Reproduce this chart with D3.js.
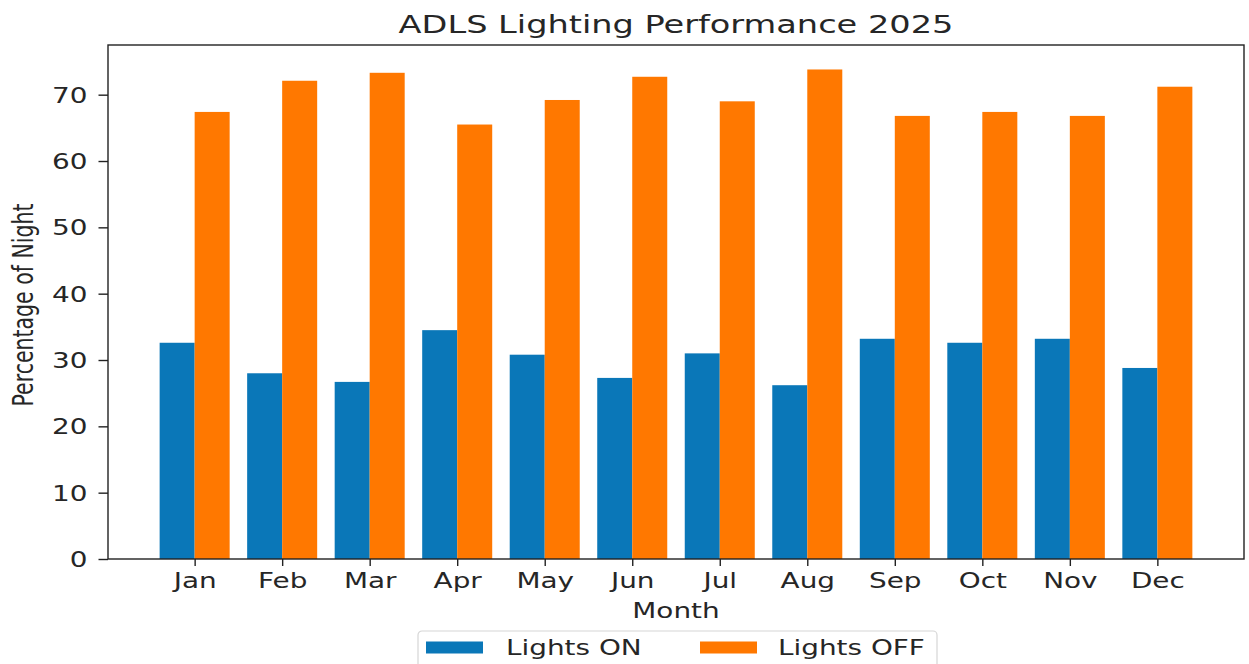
<!DOCTYPE html>
<html>
<head>
<meta charset="utf-8">
<script src="https://cdn.jsdelivr.net/npm/d3@7"></script>
<style>
    body { margin: 0; background: #fff; }
    text { font-family: 'DejaVu Sans', sans-serif; fill: #262626; }
</style>
</head>
<body>
<div id="chart"></div>
<script>
const months = ['Jan', 'Feb', 'Mar', 'Apr', 'May', 'Jun', 'Jul', 'Aug', 'Sep', 'Oct', 'Nov', 'Dec'];
const lightsOn = [32.6, 28.0, 26.7, 34.5, 30.8, 27.3, 31.0, 26.2, 33.2, 32.6, 33.2, 28.8];
const lightsOff = [67.4, 72.1, 73.3, 65.5, 69.2, 72.7, 69.0, 73.8, 66.8, 67.4, 66.8, 71.2];
const yTicks = [0, 10, 20, 30, 40, 50, 60, 70];
const seriesNames = ['Lights ON', 'Lights OFF'];
const colors = ['#0a77b8', '#ff7800'];

const width = 1249,
    height = 664;
const margin = { top: 45, right: 5, bottom: 105, left: 108 };
const plotW = width - margin.left - margin.right,
    plotH = height - margin.top - margin.bottom;

// the picture is stretched sideways, so text is widened to match
const sx = 1.36;
const fs = 20.5;

const svg = d3.select('#chart').append('svg').attr('width', width).attr('height', height);
const g = svg.append('g').attr('transform', `translate(${margin.left},${margin.top})`);

// matplotlib style: bars of width 0.4 either side of the tick, 5% margins
const x = d3.scaleLinear().domain([-0.99, 11.99]).range([0, plotW]);
const yMax = d3.max(lightsOff) * 1.05;
const y = d3.scaleLinear().domain([0, yMax]).range([plotH, 0]);
const barW = 0.4;

const rows = months.map((m, i) => ({ i: i, on: lightsOn[i], off: lightsOff[i] }));

g.selectAll('rect.on')
    .data(rows)
    .enter()
    .append('rect')
    .attr('class', 'on')
    .attr('x', (d) => x(d.i - barW))
    .attr('width', x(barW) - x(0))
    .attr('y', (d) => y(d.on))
    .attr('height', (d) => plotH - y(d.on))
    .attr('fill', colors[0]);

g.selectAll('rect.off')
    .data(rows)
    .enter()
    .append('rect')
    .attr('class', 'off')
    .attr('x', (d) => x(d.i))
    .attr('width', x(barW) - x(0))
    .attr('y', (d) => y(d.off))
    .attr('height', (d) => plotH - y(d.off))
    .attr('fill', colors[1]);

// axes
const yAxis = g.append('g').call(d3.axisLeft(y).tickValues(yTicks).tickSize(9.5));
const xAxis = g
    .append('g')
    .attr('transform', `translate(0,${plotH})`)
    .call(
        d3
            .axisBottom(x)
            .tickValues(d3.range(12))
            .tickFormat((i) => months[i])
            .tickSize(7)
    );
[xAxis, yAxis].forEach((a) => {
    a.select('.domain').remove();
    a.selectAll('line').attr('stroke', '#222').attr('stroke-width', 1.4);
    a.selectAll('text').style('font-size', fs + 'px').attr('fill', '#262626').attr('transform', `scale(${sx},1)`);
});
xAxis.selectAll('text').attr('y', 29).attr('dy', null);
yAxis.selectAll('text').attr('x', -20.5 / sx).attr('dy', '0.36em');

// frame
g.append('rect')
    .attr('width', plotW)
    .attr('height', plotH)
    .attr('fill', 'none')
    .attr('stroke', '#222')
    .attr('stroke-width', 1.4);

// title and axis labels
const cx = margin.left + plotW / 2;
svg.append('text')
    .attr('transform', `translate(${cx},33) scale(${sx},1)`)
    .attr('text-anchor', 'middle')
    .style('font-size', '24.7px')
    .text('ADLS Lighting Performance 2025');

svg.append('text')
    .attr('transform', `translate(${cx},618) scale(${sx},1)`)
    .attr('text-anchor', 'middle')
    .style('font-size', fs + 'px')
    .text('Month');

svg.append('text')
    .attr('transform', `translate(33,${margin.top + plotH / 2 + 3}) scale(${sx},1) rotate(-90)`)
    .attr('text-anchor', 'middle')
    .style('font-size', fs + 'px')
    .text('Percentage of Night');

// legend
const legend = svg.append('g').attr('transform', 'translate(418,631)');
legend
    .append('rect')
    .attr('width', 519)
    .attr('height', 50)
    .attr('rx', 4)
    .attr('fill', '#fff')
    .attr('stroke', '#d6d6d6')
    .attr('stroke-width', 1.2);

const itemX = [8, 282];
const textX = [88, 360];
seriesNames.forEach((name, k) => {
    legend
        .append('rect')
        .attr('x', itemX[k])
        .attr('y', 10.5)
        .attr('width', 57)
        .attr('height', 12)
        .attr('fill', colors[k]);
    legend
        .append('text')
        .attr('transform', `translate(${textX[k]},24) scale(${sx},1)`)
        .style('font-size', fs + 'px')
        .text(name);
});
</script>
</body>
</html>
